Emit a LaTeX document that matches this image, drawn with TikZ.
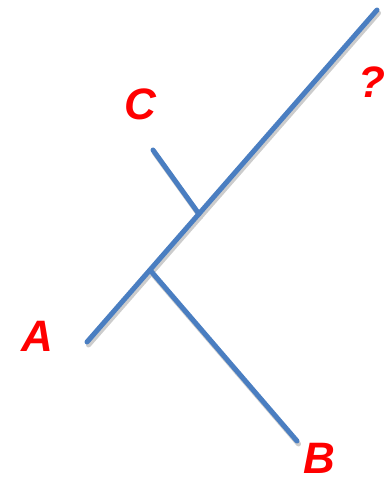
\documentclass[tikz,border=0pt]{standalone}
\usepackage{fontspec}
\setmainfont{Liberation Sans}
\usetikzlibrary{positioning}
\definecolor{branchblue}{RGB}{74,126,193}
\definecolor{taxonred}{RGB}{255,0,0}

\begin{document}
\begin{tikzpicture}[
      x=1pt, y=-1pt,
      branch/.style={draw=branchblue, line width=5pt, line cap=round},
      shade/.style={draw=black!20, line width=5pt, line cap=round},
      taxon/.style={text=taxonred, font=\fontsize{44}{48}\selectfont\bfseries\itshape, inner sep=0pt}
    ]
      \useasboundingbox (0,0) rectangle (386,484);

      \coordinate (a)  at (87,342);
      \coordinate (q)  at (377,10);
      \coordinate (jb) at (150,270);
      \coordinate (jc) at (199,214);
      \coordinate (b)  at (297,441);
      \coordinate (c)  at (153,150);

      % shadow first
      \draw[shade] ([shift={(1.5,3)}]a) -- ([shift={(1.5,3)}]q);
      \draw[shade] ([shift={(1.5,3)}]jb) -- ([shift={(1.5,3)}]b);
      \draw[shade] ([shift={(1.5,3)}]jc) -- ([shift={(1.5,3)}]c);

      \draw[branch] (a) -- (q);
      \draw[branch] (jb) -- (b);
      \draw[branch] (jc) -- (c);

      \node[taxon] (la) at (37,336) {A};
      \node[taxon] (lb) at (319,458) {B};
      \node[taxon] (lc) at (140,104) {C};
      \node[taxon] (lq) at (372,82)  {?};
    \end{tikzpicture}
\end{document}
